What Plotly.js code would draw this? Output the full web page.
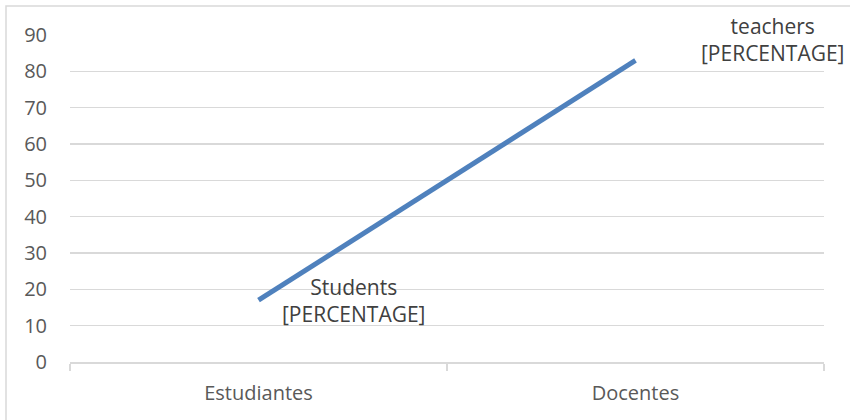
<!DOCTYPE html>
<html>
<head>
<meta charset="utf-8">
<script src="https://cdn.plot.ly/plotly-3.0.1.min.js"></script>
<style>
  html, body { margin: 0; padding: 0; background: #ffffff; }
  #chart { width: 850px; height: 420px; }
</style>
</head>
<body>
<div id="chart"></div>
<script>
// Groups on the category axis
const categories = ['Estudiantes', 'Docentes'];
// Percentage for each group
const values = [17, 83];
// Text shown next to each point
const pointNames = ['Students', 'teachers'];
const valuePlaceholder = '[PERCENTAGE]';
// Y axis ticks
const yTicks = [0, 10, 20, 30, 40, 50, 60, 70, 80, 90];

const gridGray = '#D9D9D9';
const tickFont = { family: 'Open Sans, sans-serif', size: 20, color: '#595959' };
const labelFont = { family: 'Open Sans, sans-serif', size: 21, color: '#404040' };

const trace = {
  type: 'scatter',
  mode: 'lines',
  x: categories,
  y: values,
  line: { color: '#4F81BD', width: 5 },
  hoverinfo: 'skip'
};

// label offsets (px) relative to each point
const labelShift = [
  { x: 95, y: 0 },
  { x: 137, y: 21 }
];

const annotations = categories.map((c, i) => ({
  xref: 'x', yref: 'y',
  x: c, y: values[i],
  text: pointNames[i] + '<br>' + valuePlaceholder,
  showarrow: false,
  xanchor: 'center', yanchor: 'middle',
  xshift: labelShift[i].x, yshift: labelShift[i].y,
  font: labelFont
}));

// plot area occupies x 70..824, y 35..362 of the 850x420 page
const plotW = 754, plotH = 327;
const frame = {
  type: 'rect', xref: 'paper', yref: 'paper',
  x0: (6 - 70) / plotW, x1: (900 - 70) / plotW,
  y0: (362 - 460) / plotH, y1: (362 - 6) / plotH,
  line: { color: gridGray, width: 1.5 },
  fillcolor: 'rgba(0,0,0,0)',
  layer: 'below'
};

const layout = {
  width: 850, height: 420,
  margin: { l: 70, r: 26, t: 35, b: 58, pad: 0 },
  paper_bgcolor: '#ffffff',
  plot_bgcolor: '#ffffff',
  showlegend: false,
  xaxis: {
    type: 'category',
    range: [-0.5, categories.length - 0.5],
    showgrid: false,
    zeroline: false,
    showline: true,
    linecolor: gridGray,
    linewidth: 1.5,
    ticks: 'outside',
    tickson: 'boundaries',
    ticklen: 7,
    tickcolor: gridGray,
    tickwidth: 1.5,
    ticklabelstandoff: 12,
    tickfont: tickFont,
    fixedrange: true
  },
  yaxis: {
    range: [0, 90],
    tickvals: yTicks,
    ticktext: yTicks.map(String),
    showgrid: true,
    gridcolor: gridGray,
    gridwidth: 1.5,
    zeroline: false,
    showline: false,
    ticks: '',
    ticklabelstandoff: 22,
    tickfont: tickFont,
    fixedrange: true
  },
  shapes: [frame],
  annotations: annotations
};

Plotly.newPlot('chart', [trace], layout, { displayModeBar: false, staticPlot: true });
</script>
</body>
</html>
